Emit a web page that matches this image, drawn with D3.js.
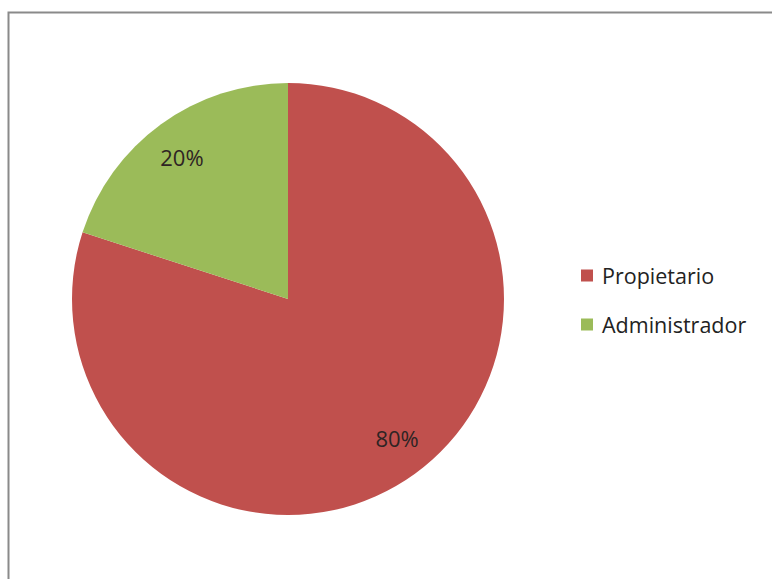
<!DOCTYPE html>
<html>
<head>
<meta charset="utf-8">
<script src="https://cdn.jsdelivr.net/npm/d3@7"></script>
<style>
  html, body { margin: 0; padding: 0; background: #fff; }
  svg { display: block; }
</style>
</head>
<body>
<svg id="chart" width="772" height="579"></svg>
<script>
const categories = ["Propietario", "Administrador"];
const values = [80, 20];
const labels = ["80%", "20%"];
const colors = ["#C0504D", "#9BBB59"];

const svg = d3.select("#chart");
const W = 772, H = 579;

svg.append("rect").attr("x", 0).attr("y", 0).attr("width", W).attr("height", H).attr("fill", "#fff");
// chart border (only top and left visible in frame)
svg.append("rect")
  .attr("x", 8.5).attr("y", 12.5)
  .attr("width", W + 20).attr("height", H + 20)
  .attr("fill", "none").attr("stroke", "#8a8a8a").attr("stroke-width", 2);

const cx = 288, cy = 299, r = 216;
const g = svg.append("g").attr("transform", `translate(${cx},${cy})`);

const pie = d3.pie().sort(null).value(d => d.v);
const data = categories.map((c, i) => ({ c, v: values[i], lab: labels[i], col: colors[i] }));
const arcs = pie(data);
const arc = d3.arc().innerRadius(0).outerRadius(r);
const labelArc = d3.arc().innerRadius(r * 0.82).outerRadius(r * 0.82);

g.selectAll("path.slice").data(arcs).join("path")
  .attr("class", "slice")
  .attr("d", arc)
  .attr("fill", d => d.data.col);

g.selectAll("text.lab").data(arcs).join("text")
  .attr("class", "lab")
  .attr("x", d => labelArc.centroid(d)[0] + (d.index === 0 ? 5 : -2))
  .attr("y", d => labelArc.centroid(d)[1] + (d.index === 0 ? -4 : 1))
  .attr("text-anchor", "middle")
  .attr("dominant-baseline", "central")
  .attr("font-family", "'Open Sans', 'Noto Sans', sans-serif")
  .attr("font-size", 22)
  .attr("fill", "#2e2424")
  .text(d => d.data.lab);

const legend = svg.append("g").attr("transform", "translate(581,275.5)");
const items = legend.selectAll("g").data(data).join("g")
  .attr("transform", (d, i) => `translate(0,${i * 49})`);
items.append("rect").attr("x", 0).attr("y", -6).attr("width", 12).attr("height", 12)
  .attr("fill", d => d.col);
items.append("text").attr("x", 21).attr("y", 0)
  .attr("dominant-baseline", "central")
  .attr("font-family", "'Open Sans', 'Noto Sans', sans-serif")
  .attr("font-size", 21.5)
  .attr("fill", "#222")
  .text(d => d.c);
</script>
</body>
</html>
